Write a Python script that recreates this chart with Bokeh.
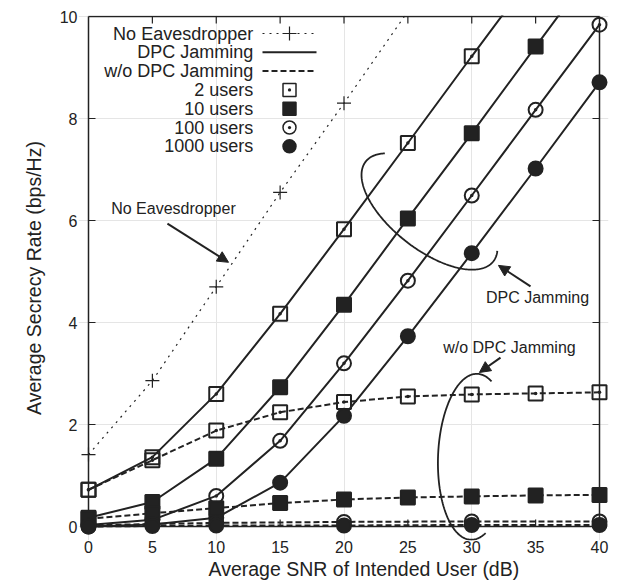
import math
import numpy as np
from bokeh.plotting import figure
from bokeh.models import LinearAxis, FixedTicker, Label, Arrow, NormalHead, Range1d, Title
from bokeh.core.properties import value
from bokeh.embed import file_html
from bokeh.resources import INLINE

# ---------------- data ----------------
snr = [0, 5, 10, 15, 20, 25, 30, 35, 40]
snr_sparse = [0, 5, 10, 20, 30, 40]
no_eaves_x = [0, 5, 10, 15, 20, 25]
no_eaves = [1.41, 2.86, 4.70, 6.55, 8.30, 10.10]
dpc_2_x = [0, 5, 10, 15, 20, 25, 30, 35]
dpc_2 = [0.72, 1.36, 2.60, 4.17, 5.83, 7.52, 9.22, 10.90]
dpc_10 = [0.17, 0.48, 1.33, 2.73, 4.35, 6.04, 7.71, 9.41, 11.10]
dpc_100 = [0.03, 0.13, 0.60, 1.68, 3.20, 4.82, 6.49, 8.17, 9.84]
dpc_1000 = [0.00, 0.04, 0.17, 0.86, 2.17, 3.73, 5.36, 7.02, 8.71]
wo_2 = [0.72, 1.30, 1.88, 2.24, 2.44, 2.55, 2.59, 2.61, 2.63]
wo_10 = [0.15, 0.26, 0.36, 0.46, 0.53, 0.57, 0.59, 0.61, 0.62]
wo_100 = [0.02, 0.05, 0.07, 0.09, 0.10, 0.10]
wo_1000 = [0.00, 0.01, 0.02, 0.02, 0.03, 0.03]

x_ticks = [0, 5, 10, 15, 20, 25, 30, 35, 40]
y_ticks = [0, 2, 4, 6, 8, 10]
legend_labels = ["No Eavesdropper", "DPC Jamming", "w/o DPC Jamming",
                 "2 users", "10 users", "100 users", "1000 users"]
x_title = "Average SNR of Intended User (dB)"
y_title = "Average Secrecy Rate (bps/Hz)"

# ---------------- layout ----------------
INK = "#222222"
FONT = "Liberation Sans"
X0, X1, Y0, Y1 = 0, 40, 0, 10
PX_X = 511 / 40.0     # pixels per dB
PX_Y = 510 / 10.0     # pixels per bps/Hz
PAD_L, PAD_R, PAD_B, PAD_T = 10, 9, 14, 1
TICK = 7

p = figure(width=610, height=585,
           x_range=Range1d(X0 - PAD_L / PX_X, X1 + PAD_R / PX_X),
           y_range=Range1d(Y0 - PAD_B / PX_Y, Y1 + PAD_T / PX_Y),
           x_axis_location=None, y_axis_location=None,
           output_backend="svg", toolbar_location=None,
           min_border_left=78, min_border_right=2,
           min_border_top=15, min_border_bottom=45)
p.outline_line_color = None
p.background_fill_color = "white"
p.border_fill_color = "white"


def label_axis(ax, ticks, standoff):
    ax.ticker = FixedTicker(ticks=ticks)
    ax.axis_line_color = None
    ax.major_tick_line_color = None
    ax.minor_tick_line_color = None
    ax.major_tick_in = 0
    ax.major_tick_out = 0
    ax.minor_tick_in = 0
    ax.minor_tick_out = 0
    ax.major_label_text_font = FONT
    ax.major_label_text_color = INK
    ax.major_label_text_font_size = "16px"
    ax.major_label_standoff = standoff


bottom = LinearAxis()
label_axis(bottom, x_ticks, 0)
p.add_layout(bottom, "below")
left = LinearAxis()
label_axis(left, y_ticks, 1)
p.add_layout(left, "left")

p.add_layout(Title(text=x_title, align="left", offset=130, standoff=0,
                   text_font=FONT, text_font_size="19.5px", text_font_style="normal",
                   text_color=INK), "below")
p.add_layout(Title(text=y_title, align="center", standoff=23,
                   text_font=FONT, text_font_size="19.5px", text_font_style="normal",
                   text_color=INK), "left")

# box and inward ticks drawn at the data limits
p.segment(x0=[X0, X0, X0, X1], y0=[Y0, Y1, Y0, Y0],
          x1=[X1, X1, X0, X1], y1=[Y0, Y1, Y1, Y1],
          line_color=INK, line_width=1.5)
tx = [t for t in x_ticks if X0 < t < X1]
ty = [t for t in y_ticks if Y0 < t < Y1]
p.segment(x0=tx, y0=[Y0] * len(tx), x1=tx, y1=[Y0 + TICK / PX_Y] * len(tx),
          line_color=INK, line_width=1.2)
p.segment(x0=tx, y0=[Y1] * len(tx), x1=tx, y1=[Y1 - TICK / PX_Y] * len(tx),
          line_color=INK, line_width=1.2)
p.segment(x0=[X0] * len(ty), y0=ty, x1=[X0 + TICK / PX_X] * len(ty), y1=ty,
          line_color=INK, line_width=1.2)
p.segment(x0=[X1] * len(ty), y0=ty, x1=[X1 - TICK / PX_X] * len(ty), y1=ty,
          line_color=INK, line_width=1.2)

# ---------------- series ----------------
SOLID_W = 2.0
DASH = "6 3"
MS = 14

p.line(no_eaves_x, no_eaves, line_color=INK, line_width=1.2, line_dash="2 5")
ne_in = [(x, y) for x, y in zip(no_eaves_x, no_eaves) if y <= Y1]
p.scatter([a for a, _ in ne_in], [b for _, b in ne_in], marker="cross",
          size=MS, line_color=INK, line_width=1.2)

series = [
    (dpc_2_x, dpc_2, "solid", "square_dot", None),
    (snr, dpc_10, "solid", "square", INK),
    (snr, dpc_100, "solid", "circle_dot", None),
    (snr, dpc_1000, "solid", "circle", INK),
    (snr, wo_2, DASH, "square_dot", None),
    (snr, wo_10, DASH, "square", INK),
    (snr_sparse, wo_100, DASH, "circle_dot", None),
    (snr_sparse, wo_1000, DASH, "circle", INK),
]
for xs, ys, dash, marker, fill in series:
    p.line(xs, ys, line_color=INK, line_width=SOLID_W, line_dash=dash)
    pts = [(x, y) for x, y in zip(xs, ys) if y <= Y1]
    p.scatter([a for a, _ in pts], [b for _, b in pts], marker=marker, size=MS,
              line_color=INK, line_width=2, fill_color=fill)

# ---------------- legend (gnuplot style: label left, sample right) ----------------
LEG_TEXT_X = (252.7 - 88) / PX_X
LEG_S0 = (262 - 88) / PX_X
LEG_S1 = (316 - 88) / PX_X
LEG_M = (289 - 88) / PX_X
LEG_Y0 = (526 - 33) / PX_Y
LEG_DY = 18.8 / PX_Y
rows = [LEG_Y0 - i * LEG_DY for i in range(len(legend_labels))]
p.text(x=[LEG_TEXT_X] * len(rows), y=rows, text=legend_labels,
       text_align="right", text_baseline="middle",
       text_font=value(FONT), text_font_size="18px", text_color=INK)
p.line([LEG_S0, LEG_S1], [rows[0], rows[0]], line_color=INK, line_width=1.2, line_dash="2 5")
p.scatter([LEG_M], [rows[0]], marker="cross", size=MS, line_color=INK, line_width=1.2)
p.line([LEG_S0, LEG_S1], [rows[1], rows[1]], line_color=INK, line_width=SOLID_W)
p.line([LEG_S0, LEG_S1], [rows[2], rows[2]], line_color=INK, line_width=SOLID_W, line_dash=DASH)
leg_marks = [("square_dot", None), ("square", INK), ("circle_dot", None), ("circle", INK)]
for i, (mk, fill) in enumerate(leg_marks):
    p.scatter([LEG_M], [rows[3 + i]], marker=mk, size=13, line_color=INK,
              line_width=1.5, fill_color=fill)

# ---------------- annotations ----------------
def ellipse_arc(cx, cy, a_px, b_px, theta_deg, t0, t1, n=160):
    th = math.radians(theta_deg)
    ux, uy = math.cos(th), math.sin(th)      # screen direction (y down)
    vx, vy = math.sin(th), -math.cos(th)
    ts = np.radians(np.linspace(t0, t1, n))
    dx = a_px * np.cos(ts) * ux + b_px * np.sin(ts) * vx
    dy = a_px * np.cos(ts) * uy + b_px * np.sin(ts) * vy
    return cx + dx / PX_X, cy - dy / PX_Y


ex, ey = ellipse_arc((429 - 88) / PX_X, (526 - 211) / PX_Y, 81, 38, 38, 151.2, 376.3)
p.line(ex, ey, line_color=INK, line_width=1.8)
ex, ey = ellipse_arc(30.18, 1.367, 83, 36, -87.7, -23.7, 204)
p.line(ex, ey, line_color=INK, line_width=1.8)

notes = [
    ("No Eavesdropper", 6.65, 6.24, 6.18, 5.94, 10.96, 5.18),
    ("DPC Jamming", 35.15, 4.49, 34.6, 4.71, 32.09, 5.12),
    ("w/o DPC Jamming", 32.95, 3.51, 32.25, 3.31, 30.6, 3.02),
]
for txt, tx_, ty_, ax0, ay0, ax1, ay1 in notes:
    p.add_layout(Label(x=tx_, y=ty_, text=txt, text_font=FONT, text_font_size="16px",
                       text_color=INK, text_align="center", text_baseline="middle"))
    p.add_layout(Arrow(x_start=ax0, y_start=ay0, x_end=ax1, y_end=ay1,
                       line_color=INK, line_width=2,
                       end=NormalHead(size=11, fill_color=INK, line_color=INK, line_width=1)))

open("out.html", "w").write(file_html(p, INLINE))
